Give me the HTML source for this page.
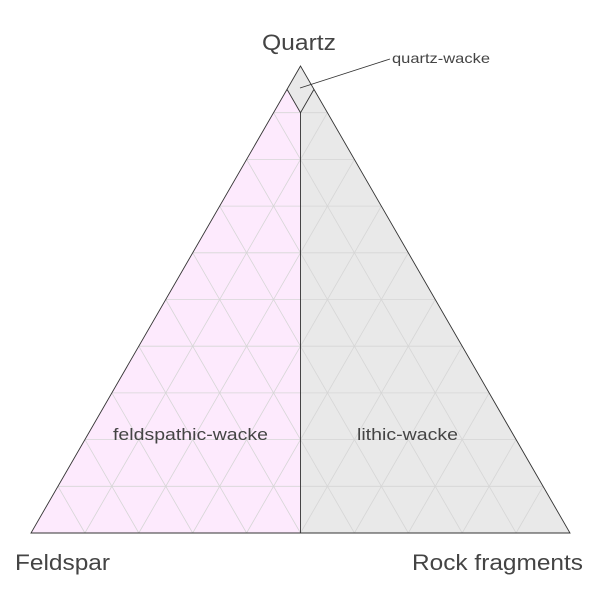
<!DOCTYPE html>
<html><head><meta charset="utf-8"><style>html,body{margin:0;padding:0;background:#fff}svg{display:block}</style></head>
<body>
<svg width="600" height="600" viewBox="0 0 600 600" xmlns="http://www.w3.org/2000/svg" font-family="'Liberation Sans', 'DejaVu Sans', sans-serif">
<polygon points="300.5,112.7 287.05,89.35 31,533 300.5,533" fill="#fdeafd"/>
<polygon points="300.5,112.7 313.95,89.35 570,533 300.5,533" fill="#e9e9e9"/>
<polygon points="300.5,66 287.05,89.35 300.5,112.7 313.95,89.35" fill="#e9e9e9"/>
<g stroke="#d6d6d6" stroke-width="0.8" fill="none">
<line x1="57.95" y1="486.3" x2="543.05" y2="486.3"/>
<line x1="84.9" y1="439.6" x2="516.1" y2="439.6"/>
<line x1="111.85" y1="392.9" x2="489.15" y2="392.9"/>
<line x1="138.8" y1="346.2" x2="462.2" y2="346.2"/>
<line x1="165.75" y1="299.5" x2="435.25" y2="299.5"/>
<line x1="192.7" y1="252.8" x2="408.3" y2="252.8"/>
<line x1="219.65" y1="206.1" x2="381.35" y2="206.1"/>
<line x1="246.6" y1="159.4" x2="354.4" y2="159.4"/>
<line x1="273.55" y1="112.7" x2="327.45" y2="112.7"/>
<line x1="84.9" y1="533" x2="327.45" y2="112.7"/>
<line x1="138.8" y1="533" x2="354.4" y2="159.4"/>
<line x1="192.7" y1="533" x2="381.35" y2="206.1"/>
<line x1="246.6" y1="533" x2="408.3" y2="252.8"/>
<line x1="300.5" y1="533" x2="435.25" y2="299.5"/>
<line x1="354.4" y1="533" x2="462.2" y2="346.2"/>
<line x1="408.3" y1="533" x2="489.15" y2="392.9"/>
<line x1="462.2" y1="533" x2="516.1" y2="439.6"/>
<line x1="516.1" y1="533" x2="543.05" y2="486.3"/>
<line x1="84.9" y1="533" x2="57.95" y2="486.3"/>
<line x1="138.8" y1="533" x2="84.9" y2="439.6"/>
<line x1="192.7" y1="533" x2="111.85" y2="392.9"/>
<line x1="246.6" y1="533" x2="138.8" y2="346.2"/>
<line x1="300.5" y1="533" x2="165.75" y2="299.5"/>
<line x1="354.4" y1="533" x2="192.7" y2="252.8"/>
<line x1="408.3" y1="533" x2="219.65" y2="206.1"/>
<line x1="462.2" y1="533" x2="246.6" y2="159.4"/>
<line x1="516.1" y1="533" x2="273.55" y2="112.7"/>
</g>
<g stroke="#333" stroke-width="0.9" fill="none">
<polygon points="300.5,66 31,533 570,533"/>
<line x1="300.5" y1="112.7" x2="300.5" y2="533"/>
<polyline points="287.05,89.35 300.5,112.7 313.95,89.35"/>
<line x1="300" y1="88" x2="390" y2="59"/>
</g>
<g fill="#444">
<text x="262" y="50" font-size="22" textLength="74" lengthAdjust="spacingAndGlyphs">Quartz</text>
<text x="15" y="570" font-size="22" textLength="95" lengthAdjust="spacingAndGlyphs">Feldspar</text>
<text x="412" y="570" font-size="22" textLength="171" lengthAdjust="spacingAndGlyphs">Rock fragments</text>
<text x="392" y="63" font-size="14" textLength="98" lengthAdjust="spacingAndGlyphs">quartz-wacke</text>
<text x="113" y="440" font-size="17" textLength="155" lengthAdjust="spacingAndGlyphs">feldspathic-wacke</text>
<text x="357" y="440" font-size="17" textLength="101" lengthAdjust="spacingAndGlyphs">lithic-wacke</text>
</g>
</svg>
</body></html>
